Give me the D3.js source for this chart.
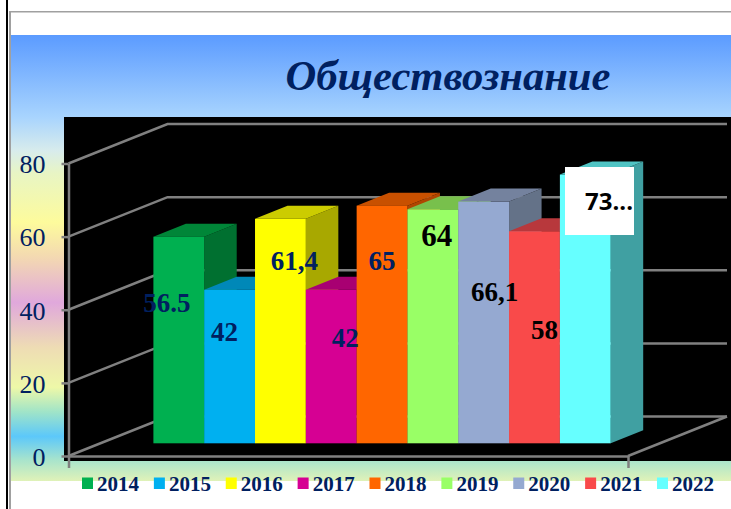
<!DOCTYPE html>
<html>
<head>
<meta charset="utf-8">
<script src="https://cdn.jsdelivr.net/npm/d3@7"></script>
<style>
  html, body { margin: 0; padding: 0; background: #fff; overflow: hidden; }
  text { font-family: "Liberation Serif", serif; }
</style>
</head>
<body>
<div id="viz"></div>
<script>
var years = ["2014", "2015", "2016", "2017", "2018", "2019", "2020", "2021", "2022"];
var values = [56.5, 42, 61.4, 42, 65, 64, 66.1, 58, 73.5];
var valueLabels = ["56.5", "42", "61,4", "42", "65", "64", "66,1", "58", "73..."];
var frontColors = ["#00b050", "#00b0f0", "#ffff00", "#d60093", "#ff6600", "#99ff66", "#95a9d1", "#f94a4a", "#66ffff"];
var sideColors = ["#007030", "#0085b4", "#a8a800", "#a00070", "#b04600", "#6fb845", "#647288", "#b03538", "#40a0a2"];
var topColors = ["#008638", "#0088b8", "#cccc00", "#a80072", "#c85000", "#78c04c", "#74829e", "#b8383c", "#50c4c4"];
var yTicks = [0, 20, 40, 60, 80];
var title = "Обществознание";

var width = 731, height = 509;
var navy = "#002060", grid = "#808080";

// how far the 3d floor runs back, walls and bars
var wall = {dx: 99, dy: -39.5};
var depth = {dx: 32.5, dy: -13};
var floorDrop = 12.7;

var svg = d3.select("#viz").append("svg")
    .attr("width", width)
    .attr("height", height)
    .style("display", "block");

var gradStops = [
  [0, "#5b9bff"], [0.184, "#a8d4fe"], [0.26, "#d8ecec"], [0.31, "#e8f5c4"],
  [0.42, "#fdfb9c"], [0.5, "#f3d8b2"], [0.6, "#e0a8dc"], [0.7, "#eedcb4"],
  [0.79, "#eef8a8"], [0.845, "#a0e4c8"], [0.9, "#5cc8fa"], [0.953, "#a8e4cc"],
  [1, "#e0f2b8"]
];
var grad = svg.append("defs").append("linearGradient")
    .attr("id", "bg")
    .attr("x1", 0).attr("x2", 0).attr("y1", 0).attr("y2", 1);
grad.selectAll("stop").data(gradStops).enter().append("stop")
    .attr("offset", function(d) { return d[0]; })
    .attr("stop-color", function(d) { return d[1]; });

svg.append("rect").attr("x", 11).attr("y", 35).attr("width", 720).attr("height", 446).attr("fill", "url(#bg)");

// page frame
svg.append("rect").attr("x", 6).attr("y", 0).attr("width", 2).attr("height", height).attr("fill", "#000");
svg.append("rect").attr("x", 9).attr("y", 11).attr("width", 2).attr("height", height).attr("fill", "#a0a0a0");
svg.append("rect").attr("x", 9).attr("y", 11).attr("width", 722).attr("height", 1.5).attr("fill", "#a0a0a0");

svg.append("text")
    .attr("x", 448).attr("y", 90)
    .attr("text-anchor", "middle")
    .attr("font-size", 42.6)
    .attr("font-weight", "bold")
    .attr("font-style", "italic")
    .attr("fill", navy)
    .text(title);

svg.append("rect").attr("x", 64).attr("y", 117).attr("width", 667).attr("height", 344).attr("fill", "#000");

/* scales */
var y = d3.scaleLinear().domain([0, 80]).range([456, 163.5]);
var x = d3.scaleBand().domain(years).range([153.4, 610.7]);
var floorX = d3.scaleLinear().domain([0, 1]).range([68.5, 628]);

/* walls */
var walls = svg.append("g").attr("fill", "none").attr("stroke", grid).attr("stroke-width", 2.5);
walls.selectAll("path.grid").data(yTicks).enter().append("path")
    .attr("class", "grid")
    .attr("d", function(d) {
      return d3.line()([[floorX(0), y(d)], [floorX(0) + wall.dx, y(d) + wall.dy], [floorX(1) + wall.dx, y(d) + wall.dy]]);
    });
walls.append("path")
    .attr("d", d3.line()([[floorX(1), y(0)], [floorX(1) + wall.dx, y(0) + wall.dy]]));

/* axes */
var yAxis = svg.append("g")
    .attr("transform", "translate(" + floorX(0) + ",0)")
    .call(d3.axisLeft(y).tickValues(yTicks).tickSize(7).tickSizeOuter(0).tickPadding(16));
yAxis.selectAll("line, path").attr("stroke", grid).attr("stroke-width", 2.5);
yAxis.selectAll("text")
    .attr("y", 1)
    .attr("font-size", 26)
    .attr("font-family", "Liberation Serif")
    .attr("fill", navy);

var xAxis = svg.append("g")
    .attr("transform", "translate(0," + y(0) + ")")
    .call(d3.axisBottom(floorX).tickValues([]).tickSizeOuter(12));
xAxis.selectAll("path").attr("stroke", grid).attr("stroke-width", 2.5);

/* bars, left to right so every one covers the side of the one before it */
var base = y(0) - floorDrop;
function barTop(d) { return y(d) - floorDrop; }

var bars = svg.selectAll("g.bar").data(values).enter().append("g").attr("class", "bar");

bars.append("path")
    .attr("fill", function(d, i) { return sideColors[i]; })
    .attr("d", function(d, i) {
      var r = x(years[i]) + x.bandwidth();
      return d3.line()([[r, barTop(d)], [r + depth.dx, barTop(d) + depth.dy], [r + depth.dx, base + depth.dy], [r, base]]) + "Z";
    });
bars.append("path")
    .attr("fill", function(d, i) { return topColors[i]; })
    .attr("d", function(d, i) {
      var l = x(years[i]), r = l + x.bandwidth(), t = barTop(d);
      return d3.line()([[l, t], [l + depth.dx, t + depth.dy], [r + depth.dx, t + depth.dy], [r, t]]) + "Z";
    });
bars.append("rect")
    .attr("x", function(d, i) { return x(years[i]); })
    .attr("y", barTop)
    .attr("width", x.bandwidth())
    .attr("height", function(d) { return base - barTop(d); })
    .attr("fill", function(d, i) { return frontColors[i]; });

/* value labels, placed by hand in the original: offset from the bar centre and top */
var labelOffsets = [[-12, 66], [-5, 42], [14, 42], [14, 48], [0, 55], [4, 26], [11, 90], [10, 98], [0, 0]];
var labelColors = [navy, navy, navy, navy, navy, "#000", "#000", "#000", "#000"];

var last = values.length - 1;
var box = {left: 565, top: 167, w: 69, h: 68};
svg.append("rect")
    .attr("x", box.left).attr("y", box.top)
    .attr("width", box.w).attr("height", box.h)
    .attr("fill", "#fff");

svg.selectAll("text.value").data(values).enter().append("text")
    .attr("class", "value")
    .attr("x", function(d, i) {
      return i == last ? box.left + 20 : x(years[i]) + x.bandwidth() / 2 + labelOffsets[i][0];
    })
    .attr("y", function(d, i) {
      return i == last ? box.top + 35 : barTop(d) + labelOffsets[i][1];
    })
    .attr("dy", "0.35em")
    .attr("text-anchor", function(d, i) { return i == last ? "start" : "middle"; })
    .attr("font-weight", "bold")
    .attr("font-size", function(d, i) { return i == last ? 24 : i == 5 ? 31 : 27; })
    .style("font-family", function(d, i) { return i == last ? '"Open Sans", sans-serif' : null; })
    .attr("fill", function(d, i) { return labelColors[i]; })
    .text(function(d, i) { return valueLabels[i]; });

/* legend */
var legendX = d3.scalePoint().domain(years).range([82, 657]);
var legend = svg.selectAll("g.legend").data(years).enter().append("g")
    .attr("class", "legend")
    .attr("transform", function(d) { return "translate(" + legendX(d) + ",483.5)"; });
legend.append("rect")
    .attr("y", -6).attr("width", 11).attr("height", 11.5)
    .attr("fill", function(d, i) { return frontColors[i]; });
legend.append("text")
    .attr("x", 15).attr("dy", "0.35em")
    .attr("font-size", 21)
    .attr("font-weight", "bold")
    .attr("fill", navy)
    .text(function(d) { return d; });
</script>
</body>
</html>
